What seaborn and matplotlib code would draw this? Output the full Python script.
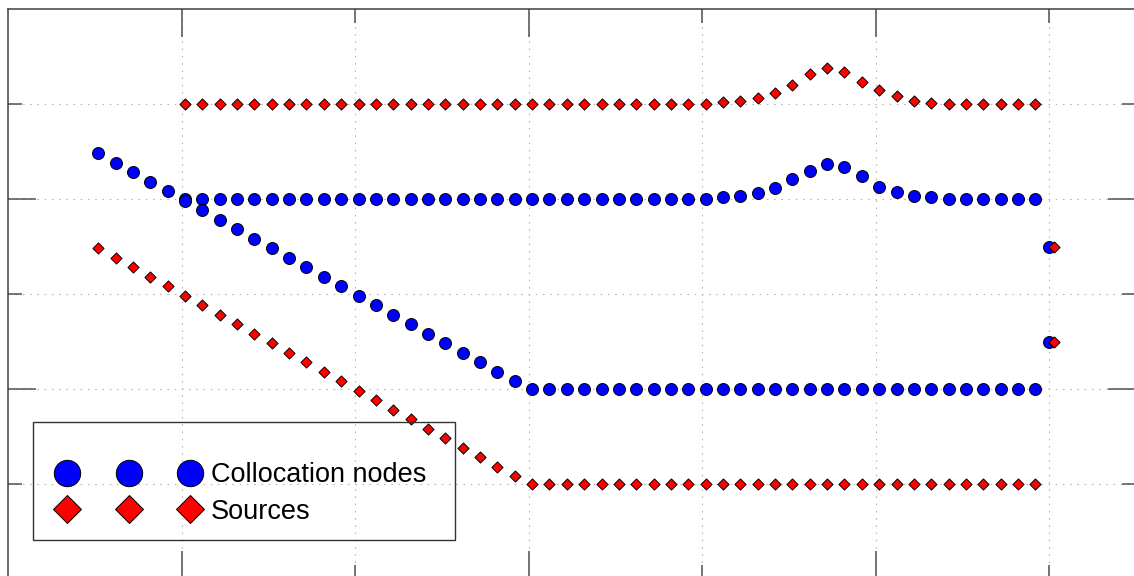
import matplotlib
matplotlib.use("Agg")
import matplotlib.pyplot as plt
from matplotlib.lines import Line2D
from matplotlib.patches import Rectangle
from matplotlib.ticker import FixedLocator
import pandas as pd
import seaborn as sns

# Abscissae of the boundary points (shared grid, step 0.1)
X_GRID = [
    0.52, 0.62, 0.72, 0.82, 0.92, 1.02, 1.12, 1.22, 1.32, 1.42,
    1.52, 1.62, 1.72, 1.82, 1.92, 2.02, 2.12, 2.22, 2.32, 2.42,
    2.52, 2.62, 2.72, 2.82, 2.92, 3.02, 3.12, 3.22, 3.32, 3.42,
    3.52, 3.62, 3.72, 3.82, 3.92, 4.02, 4.12, 4.22, 4.32, 4.42,
    4.52, 4.62, 4.72, 4.82, 4.92, 5.02, 5.12, 5.22, 5.32, 5.42,
    5.52, 5.62, 5.72, 5.82, 5.92,
]

# Collocation nodes, upper boundary (uses all of X_GRID)
NODES_UPPER_Y = [
    4.48, 4.38, 4.28, 4.18, 4.08,
    4.00, 4.00, 4.00, 4.00, 4.00, 4.00, 4.00, 4.00, 4.00, 4.00,
    4.00, 4.00, 4.00, 4.00, 4.00, 4.00, 4.00, 4.00, 4.00, 4.00,
    4.00, 4.00, 4.00, 4.00, 4.00, 4.00, 4.00, 4.00, 4.00, 4.00,
    4.00, 4.02, 4.03, 4.06, 4.12, 4.21, 4.30, 4.37, 4.34, 4.24,
    4.13, 4.07, 4.03, 4.02, 4.00,
    4.00, 4.00, 4.00, 4.00, 4.00,
]

# Collocation nodes, lower boundary (X_GRID from 1.02 on)
NODES_LOWER_Y = [
    3.98, 3.88, 3.78, 3.68, 3.58, 3.48, 3.38, 3.28, 3.18, 3.08,
    2.98, 2.88, 2.78, 2.68, 2.58, 2.48, 2.38, 2.28, 2.18, 2.08,
    2.00, 2.00, 2.00, 2.00, 2.00, 2.00, 2.00, 2.00, 2.00, 2.00,
    2.00, 2.00, 2.00, 2.00, 2.00, 2.00, 2.00, 2.00, 2.00, 2.00,
    2.00, 2.00, 2.00, 2.00, 2.00, 2.00, 2.00, 2.00, 2.00, 2.00,
]

# Sources, upper curve (X_GRID from 1.02 on)
SOURCES_UPPER_Y = [
    5.00, 5.00, 5.00, 5.00, 5.00, 5.00, 5.00, 5.00, 5.00, 5.00,
    5.00, 5.00, 5.00, 5.00, 5.00, 5.00, 5.00, 5.00, 5.00, 5.00,
    5.00, 5.00, 5.00, 5.00, 5.00, 5.00, 5.00, 5.00, 5.00, 5.00,
    5.00, 5.02, 5.035, 5.06, 5.12, 5.20, 5.32, 5.38, 5.34, 5.235,
    5.15, 5.08, 5.03, 5.01, 5.00,
    5.00, 5.00, 5.00, 5.00, 5.00,
]

# Sources, lower curve (uses all of X_GRID)
SOURCES_LOWER_Y = [
    3.48, 3.38, 3.28, 3.18, 3.08, 2.98, 2.88, 2.78, 2.68, 2.58,
    2.48, 2.38, 2.28, 2.18, 2.08, 1.98, 1.88, 1.78, 1.68, 1.58,
    1.48, 1.38, 1.28, 1.18, 1.08,
    1.00, 1.00, 1.00, 1.00, 1.00, 1.00, 1.00, 1.00, 1.00, 1.00,
    1.00, 1.00, 1.00, 1.00, 1.00, 1.00, 1.00, 1.00, 1.00, 1.00,
    1.00, 1.00, 1.00, 1.00, 1.00, 1.00, 1.00, 1.00, 1.00, 1.00,
]

# Points on the right-hand edge
NODES_EDGE_X = [6.0, 6.0]
NODES_EDGE_Y = [3.5, 2.5]
SOURCES_EDGE_X = [6.025, 6.025]
SOURCES_EDGE_Y = [3.5, 2.5]

LABELS = ["Collocation nodes", "Sources"]

nodes = pd.DataFrame({
    "x": X_GRID + X_GRID[5:] + NODES_EDGE_X,
    "y": NODES_UPPER_Y + NODES_LOWER_Y + NODES_EDGE_Y,
})
sources = pd.DataFrame({
    "x": X_GRID[5:] + X_GRID + SOURCES_EDGE_X,
    "y": SOURCES_UPPER_Y + SOURCES_LOWER_Y + SOURCES_EDGE_Y,
})

sns.set_style("white")
plt.rcParams["font.family"] = ["Liberation Sans", "DejaVu Sans"]
plt.rcParams["text.color"] = "black"

W, H = 1134, 576
fig = plt.figure(figsize=(W / 100, H / 100), dpi=100)
# Axes box: left/top frame visible, right/bottom edges run just past the canvas
ax = fig.add_axes([8 / W, (H - 579) / H, 1128 / W, 570 / H])
ax.set_xlim(0, 6.5)
ax.set_ylim(0, 6)

BLUE = "#0000ff"
RED = "#ff0000"
sns.scatterplot(data=nodes, x="x", y="y", marker="o", s=74, color=BLUE,
                edgecolor="black", linewidth=0.7, legend=False, ax=ax, zorder=3)
sns.scatterplot(data=sources, x="x", y="y", marker="D", s=32, color=RED,
                edgecolor="black", linewidth=0.7, legend=False, ax=ax, zorder=4)

ax.set_xlabel("")
ax.set_ylabel("")

# Alternating long/short ticks, dotted grid at every tick
ax.xaxis.set_major_locator(FixedLocator([1, 3, 5]))
ax.xaxis.set_minor_locator(FixedLocator([2, 4, 6]))
ax.yaxis.set_major_locator(FixedLocator([2, 4]))
ax.yaxis.set_minor_locator(FixedLocator([1, 3, 5]))
ax.tick_params(which="both", direction="in", top=True, right=True,
               bottom=True, left=True, labelbottom=False, labelleft=False,
               color="#505050", width=1.1)
ax.tick_params(which="major", length=20)
ax.tick_params(which="minor", length=10)
ax.grid(True, which="both", color="#b8b8b8", linewidth=0.8,
        linestyle=(0, (1.5, 5)))
ax.set_axisbelow(True)
for sp in ax.spines.values():
    sp.set_visible(True)
    sp.set_color("#404040")
    sp.set_linewidth(1.1)

fs = 19.5
handles = [
    Line2D([], [], ls="none", marker="o", ms=19, mfc=BLUE, mec="black", mew=0.7),
    Line2D([], [], ls="none", marker="D", ms=14.5, mfc=RED, mec="black", mew=0.7),
]
leg = ax.legend(handles, LABELS, loc="center left",
                bbox_to_anchor=(58.9 / W, 1 - 493.5 / H),
                bbox_transform=fig.transFigure,
                numpoints=3, handlelength=5.15, handletextpad=0.45, borderpad=0,
                borderaxespad=0, labelspacing=0.4, frameon=False,
                prop={"family": "Liberation Sans", "size": fs})
for t in leg.get_texts():
    t.set_color("black")

fig.add_artist(Rectangle((33 / W, 1 - 540 / H), 422 / W, 118 / H,
                         transform=fig.transFigure, fill=False,
                         edgecolor="#333333", linewidth=1.0, zorder=5))

fig.savefig("out.png", dpi=100)
